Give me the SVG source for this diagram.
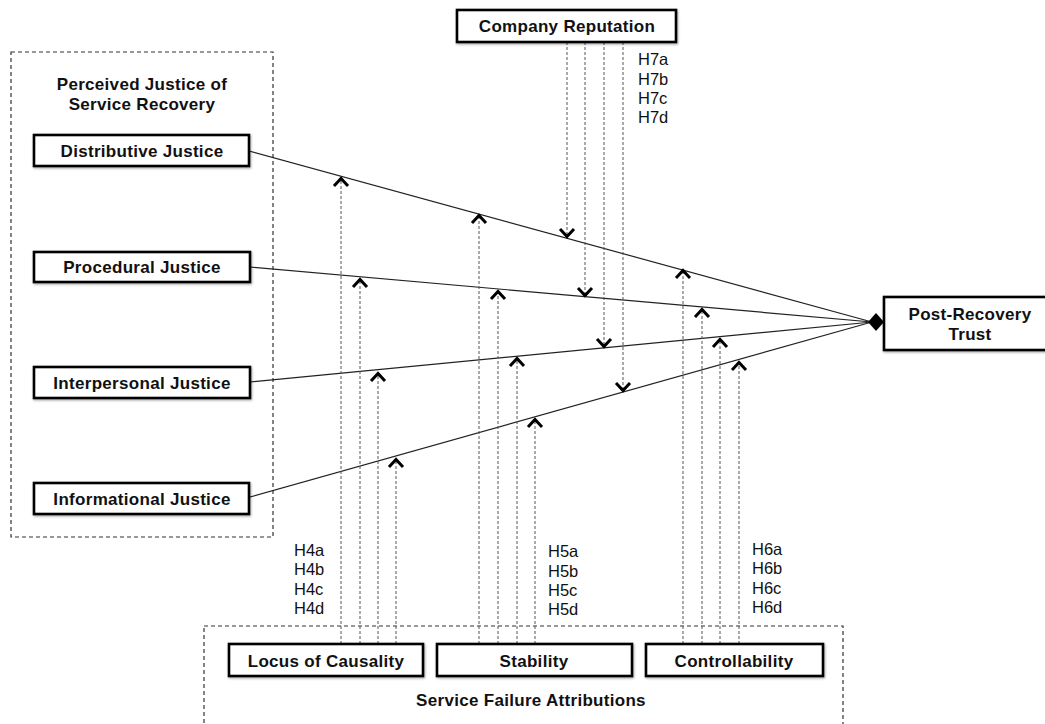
<svg xmlns="http://www.w3.org/2000/svg" width="1045" height="724" viewBox="0 0 1045 724">
  <style>
    .bg { fill: #ffffff; }
    .box { fill: #ffffff; stroke: #000000; stroke-width: 2.6; filter: url(#shadow); }
    .group { fill: none; stroke: #333333; stroke-width: 1.2; stroke-dasharray: 4 3; }
    .label { font-family: "Liberation Sans", Arial, sans-serif; font-weight: bold; font-size: 17px; letter-spacing: 0.3px; fill: #111111; text-anchor: middle; }
    .hyp { font-family: "Liberation Sans", Arial, sans-serif; font-size: 16.5px; fill: #111111; }
    .path { fill: none; stroke: #222222; stroke-width: 1.2; }
    .mod { fill: none; stroke: #555555; stroke-width: 1; stroke-dasharray: 3 2; }
  </style>
  <defs>
    <filter id="shadow" x="-10%" y="-20%" width="120%" height="150%">
      <feDropShadow dx="0.8" dy="1.2" stdDeviation="1" flood-color="#000000" flood-opacity="0.35"/>
    </filter>
    <!-- open chevron heads for moderating paths -->
    <path id="up" d="M -7 9 L 0 1.5 L 7 9" fill="none" stroke="#000000" stroke-width="3" stroke-linejoin="miter"/>
    <path id="down" d="M -7 -9 L 0 -1.5 L 7 -9" fill="none" stroke="#000000" stroke-width="3" stroke-linejoin="miter"/>
  </defs>

  <rect class="bg" x="0" y="0" width="1045" height="724"/>

  <!-- construct groupings -->
  <g id="justice-group">
    <rect class="group" x="11" y="52" width="262" height="485"/>
    <text class="label" x="142" y="90">Perceived Justice of</text>
    <text class="label" x="142" y="110">Service Recovery</text>
  </g>
  <g id="attribution-group">
    <rect class="group" x="204" y="626" width="639" height="120"/>
    <text class="label" x="531" y="706">Service Failure Attributions</text>
  </g>

  <!-- main effects and moderating paths -->
  <g id="connectors">
    <line class="path" x1="249" y1="151" x2="872" y2="322"/>
    <line class="path" x1="250" y1="267" x2="872" y2="322"/>
    <line class="path" x1="250" y1="382" x2="872" y2="322"/>
    <line class="path" x1="250" y1="497" x2="872" y2="322"/>
    <path d="M 868 322 L 876 313 L 884 322 L 876 331 Z" fill="#000000"/>

    <!-- locus of causality (H4a-d) -->
    <line class="mod" x1="341" y1="644" x2="341" y2="180"/>
    <line class="mod" x1="360" y1="644" x2="360" y2="281"/>
    <line class="mod" x1="378" y1="644" x2="378" y2="374"/>
    <line class="mod" x1="396" y1="644" x2="396" y2="461"/>
    <use href="#up" x="341" y="177"/>
    <use href="#up" x="360" y="278"/>
    <use href="#up" x="378" y="372"/>
    <use href="#up" x="396" y="458"/>

    <!-- stability (H5a-d) -->
    <line class="mod" x1="479" y1="644" x2="479" y2="217"/>
    <line class="mod" x1="498" y1="644" x2="498" y2="293"/>
    <line class="mod" x1="517" y1="644" x2="517" y2="360"/>
    <line class="mod" x1="535" y1="644" x2="535" y2="421"/>
    <use href="#up" x="479" y="214"/>
    <use href="#up" x="498" y="290"/>
    <use href="#up" x="517" y="357"/>
    <use href="#up" x="535" y="418"/>

    <!-- controllability (H6a-d) -->
    <line class="mod" x1="683" y1="644" x2="683" y2="272"/>
    <line class="mod" x1="702" y1="644" x2="702" y2="311"/>
    <line class="mod" x1="720" y1="644" x2="720" y2="341"/>
    <line class="mod" x1="739" y1="644" x2="739" y2="364"/>
    <use href="#up" x="683" y="269"/>
    <use href="#up" x="702" y="308"/>
    <use href="#up" x="720" y="338"/>
    <use href="#up" x="739" y="361"/>

    <!-- company reputation (H7a-d) -->
    <line class="mod" x1="567" y1="42" x2="567" y2="235"/>
    <line class="mod" x1="585" y1="42" x2="585" y2="294"/>
    <line class="mod" x1="604" y1="42" x2="604" y2="345"/>
    <line class="mod" x1="623" y1="42" x2="623" y2="389"/>
    <use href="#down" x="567" y="238"/>
    <use href="#down" x="585" y="297"/>
    <use href="#down" x="604" y="348"/>
    <use href="#down" x="623" y="392"/>
  </g>

  <!-- hypothesis labels -->
  <g id="hypotheses">
    <text class="hyp" x="638" y="65">H7a</text>
    <text class="hyp" x="638" y="85">H7b</text>
    <text class="hyp" x="638" y="104">H7c</text>
    <text class="hyp" x="638" y="123">H7d</text>
    <text class="hyp" x="294" y="556">H4a</text>
    <text class="hyp" x="294" y="575">H4b</text>
    <text class="hyp" x="294" y="595">H4c</text>
    <text class="hyp" x="294" y="614">H4d</text>
    <text class="hyp" x="548" y="557">H5a</text>
    <text class="hyp" x="548" y="577">H5b</text>
    <text class="hyp" x="548" y="596">H5c</text>
    <text class="hyp" x="548" y="615">H5d</text>
    <text class="hyp" x="752" y="555">H6a</text>
    <text class="hyp" x="752" y="574">H6b</text>
    <text class="hyp" x="752" y="594">H6c</text>
    <text class="hyp" x="752" y="613">H6d</text>
  </g>

  <!-- nodes -->
  <g id="distributive-justice">
    <rect class="box" x="34" y="135" width="215" height="31"/>
    <text class="label" x="142" y="157">Distributive Justice</text>
  </g>
  <g id="procedural-justice">
    <rect class="box" x="34" y="252" width="216" height="30"/>
    <text class="label" x="142" y="273">Procedural Justice</text>
  </g>
  <g id="interpersonal-justice">
    <rect class="box" x="34" y="367" width="216" height="31"/>
    <text class="label" x="142" y="389">Interpersonal Justice</text>
  </g>
  <g id="informational-justice">
    <rect class="box" x="34" y="483" width="215" height="31"/>
    <text class="label" x="142" y="505">Informational Justice</text>
  </g>
  <g id="company-reputation">
    <rect class="box" x="457" y="10" width="219" height="32"/>
    <text class="label" x="567" y="32">Company Reputation</text>
  </g>
  <g id="post-recovery-trust">
    <rect class="box" x="884" y="297" width="172" height="53"/>
    <text class="label" x="970" y="320">Post-Recovery</text>
    <text class="label" x="970" y="340">Trust</text>
  </g>
  <g id="locus-of-causality">
    <rect class="box" x="229" y="644" width="194" height="32"/>
    <text class="label" x="326" y="667">Locus of Causality</text>
  </g>
  <g id="stability">
    <rect class="box" x="437" y="644" width="195" height="32"/>
    <text class="label" x="534" y="667">Stability</text>
  </g>
  <g id="controllability">
    <rect class="box" x="646" y="644" width="177" height="32"/>
    <text class="label" x="734" y="667">Controllability</text>
  </g>
</svg>
